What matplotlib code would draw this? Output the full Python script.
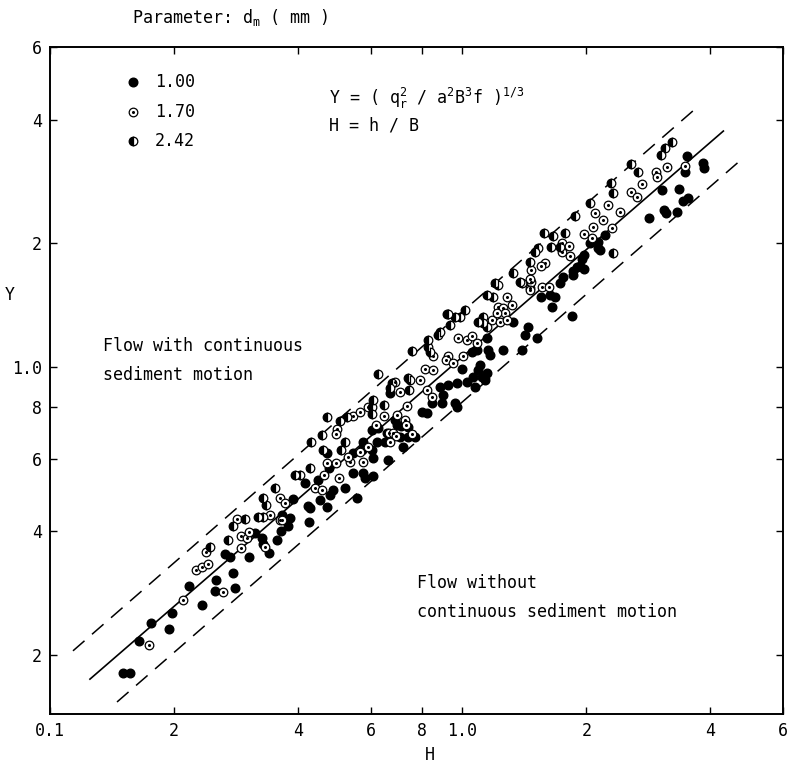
import matplotlib
matplotlib.use("Agg")
import matplotlib.pyplot as plt

# ---------------- data ----------------
# d_m = 1.00 mm (filled circles)
filled_H = [0.150, 0.156, 0.164, 0.176, 0.194, 0.198, 0.217, 0.234, 0.253, 0.251,
            0.278, 0.281, 0.266, 0.273, 0.304, 0.314, 0.327, 0.329, 0.340, 0.356,
            0.364, 0.378, 0.425, 0.366, 0.382, 0.389, 0.423, 0.427, 0.452, 0.470,
            0.416, 0.447, 0.478, 0.486, 0.520, 0.556, 0.475, 0.470, 0.544, 0.575,
            0.572, 0.605, 0.608, 0.544, 0.575, 0.581, 0.608, 0.661, 0.622, 0.625,
            0.605, 0.687, 0.695, 0.711, 0.739, 0.707, 0.739, 0.719, 0.650, 0.657,
            0.799, 0.822, 0.769, 0.668, 1.00, 1.057, 1.087, 1.105, 1.093, 1.118,
            1.063, 1.028, 0.972, 0.924, 1.075, 1.137, 1.149, 0.884, 0.899, 0.845,
            0.894, 0.961, 0.972, 1.149, 1.156, 1.169, 1.257, 0.919, 1.329, 1.445,
            1.421, 1.520, 1.398, 2.84, 2.22, 2.04, 2.13, 2.14, 2.16, 1.97,
            1.95, 1.93, 1.90, 1.86, 1.76, 1.73, 1.86, 1.97, 1.63, 1.68,
            1.55, 1.65, 1.85, 3.51, 3.47, 3.84, 3.86, 3.06, 3.36, 3.44,
            3.53, 3.09, 3.12, 3.32]
filled_Y = [0.181, 0.181, 0.216, 0.240, 0.231, 0.254, 0.295, 0.265, 0.305, 0.287,
            0.317, 0.292, 0.353, 0.347, 0.347, 0.397, 0.386, 0.373, 0.355, 0.380,
            0.401, 0.411, 0.422, 0.437, 0.432, 0.480, 0.462, 0.456, 0.477, 0.459,
            0.525, 0.534, 0.491, 0.505, 0.510, 0.483, 0.571, 0.621, 0.621, 0.660,
            0.631, 0.631, 0.604, 0.555, 0.555, 0.540, 0.546, 0.597, 0.660, 0.714,
            0.706, 0.746, 0.726, 0.722, 0.718, 0.679, 0.679, 0.642, 0.660, 0.694,
            0.781, 0.776, 0.679, 0.868, 0.993, 1.091, 1.104, 1.015, 0.987, 0.949,
            0.949, 0.923, 0.918, 0.908, 0.898, 0.933, 0.971, 0.898, 0.858, 0.821,
            0.821, 0.821, 0.803, 1.180, 1.104, 1.073, 1.104, 1.350, 1.291, 1.255,
            1.200, 1.180, 1.104, 2.31, 2.10, 2.01, 2.02, 1.95, 1.93, 1.88,
            1.83, 1.76, 1.75, 1.71, 1.66, 1.60, 1.68, 1.73, 1.50, 1.48,
            1.48, 1.40, 1.33, 3.26, 2.98, 3.14, 3.05, 2.70, 2.71, 2.54,
            2.58, 2.41, 2.37, 2.39]

# d_m = 1.70 mm (open circles)
open_H = [0.174, 0.210, 0.226, 0.234, 0.242, 0.239, 0.263, 0.291, 0.301, 0.304,
          0.291, 0.332, 0.362, 0.284, 0.342, 0.366, 0.362, 0.372, 0.440, 0.457,
          0.462, 0.470, 0.494, 0.503, 0.544, 0.565, 0.535, 0.529, 0.565, 0.591,
          0.575, 0.591, 0.646, 0.618, 0.695, 0.727, 0.731, 0.735, 0.665, 0.680,
          0.691, 0.668, 0.756, 0.497, 0.494, 0.687, 0.707, 0.790, 0.850, 0.813,
          0.850, 0.822, 0.845, 0.924, 0.914, 0.950, 0.978, 1.028, 1.057, 1.087,
          1.005, 1.285, 1.222, 1.257, 1.271, 1.322, 1.182, 1.236, 1.285, 1.215,
          1.461, 1.470, 2.56, 2.73, 2.66, 2.26, 2.42, 2.10, 2.19, 2.08,
          2.31, 1.97, 2.07, 1.75, 1.82, 1.75, 1.83, 1.59, 1.55, 1.47,
          1.46, 1.56, 1.62, 1.46, 2.95, 2.97, 3.14, 3.47]
open_Y = [0.212, 0.273, 0.323, 0.328, 0.334, 0.357, 0.285, 0.390, 0.386, 0.399,
          0.365, 0.367, 0.427, 0.429, 0.439, 0.427, 0.483, 0.469, 0.510, 0.505,
          0.549, 0.587, 0.587, 0.540, 0.763, 0.781, 0.590, 0.607, 0.624, 0.642,
          0.590, 0.803, 0.763, 0.726, 0.768, 0.746, 0.726, 0.807, 0.694, 0.694,
          0.683, 0.660, 0.690, 0.710, 0.690, 0.923, 0.873, 0.933, 1.067, 0.993,
          0.987, 0.883, 0.849, 1.067, 1.044, 1.026, 1.180, 1.167, 1.194, 1.148,
          1.067, 1.484, 1.404, 1.396, 1.357, 1.419, 1.305, 1.291, 1.305, 1.357,
          1.561, 1.614, 2.67, 2.79, 2.60, 2.48, 2.39, 2.37, 2.28, 2.19,
          2.18, 2.11, 2.06, 2.01, 1.97, 1.91, 1.86, 1.79, 1.76, 1.72,
          1.64, 1.57, 1.57, 1.54, 2.98, 2.90, 3.07, 3.09]

# d_m = 2.42 mm (half-filled circles)
half_H = [0.245, 0.270, 0.278, 0.297, 0.320, 0.329, 0.329, 0.334, 0.352, 0.393,
          0.404, 0.427, 0.460, 0.430, 0.457, 0.470, 0.506, 0.526, 0.520, 0.508,
          0.605, 0.605, 0.608, 0.646, 0.625, 0.676, 0.668, 0.739, 0.747, 0.743,
          0.756, 0.827, 0.836, 0.874, 0.884, 0.924, 0.935, 0.961, 0.988, 1.016,
          0.827, 1.093, 1.149, 1.189, 1.124, 1.124, 1.149, 1.202, 1.222, 1.398,
          2.29, 2.32, 2.04, 1.88, 1.58, 1.66, 1.78, 1.64, 1.73, 1.53,
          1.50, 2.32, 1.46, 1.33, 1.38, 3.23, 3.11, 3.04, 2.56, 2.67]
half_Y = [0.367, 0.382, 0.413, 0.429, 0.434, 0.434, 0.483, 0.464, 0.510, 0.549,
          0.549, 0.571, 0.631, 0.660, 0.686, 0.759, 0.742, 0.759, 0.660, 0.631,
          0.803, 0.772, 0.835, 0.812, 0.965, 0.918, 0.893, 0.944, 0.933, 0.883,
          1.098, 1.122, 1.091, 1.200, 1.220, 1.350, 1.269, 1.327, 1.327, 1.380,
          1.167, 1.291, 1.501, 1.484, 1.327, 1.284, 1.255, 1.605, 1.587, 1.605,
          2.81, 2.65, 2.51, 2.33, 2.12, 2.08, 2.12, 1.96, 1.96, 1.95,
          1.91, 1.90, 1.80, 1.70, 1.61, 3.53, 3.41, 3.28, 3.12, 2.98]

# reference lines
center_H = [0.125, 4.30]
center_Y = [0.175, 3.75]
upper_H = [0.1137, 3.72]
upper_Y = [0.205, 4.29]
lower_H = [0.1454, 4.81]
lower_Y = [0.154, 3.23]

legend_labels = ["1.00", "1.70", "2.42"]

x_ticks = [0.1, 0.2, 0.4, 0.6, 0.8, 1.0, 2, 4, 6]
x_ticklabels = ["0.1", "2", "4", "6", "8", "1.0", "2", "4", "6"]
y_ticks = [0.2, 0.4, 0.6, 0.8, 1.0, 2, 4, 6]
y_ticklabels = ["2", "4", "6", "8", "1.0", "2", "4", "6"]

# ---------------- plot ----------------
FONT = "DejaVu Sans Mono"
plt.rcParams["font.family"] = FONT

fig = plt.figure(figsize=(7.88, 7.69), dpi=100)
ax = fig.add_axes([50 / 788, 1 - 714 / 769, 733 / 788, 667 / 769])
ax.set_xscale("log")
ax.set_yscale("log")
ax.set_xlim(0.1, 6)
ax.set_ylim(0.144, 6)

ms = 6.2
ax.plot(center_H, center_Y, color="black", lw=1.2, zorder=1)
for h, yv in ((upper_H, upper_Y), (lower_H, lower_Y)):
    ax.plot(h, yv, color="black", lw=1.1, dashes=(10, 6.5), zorder=1)

ax.plot(filled_H, filled_Y, "o", ms=ms, color="black", mec="black", zorder=3)
ax.plot(open_H, open_Y, "o", ms=ms, mfc="white", mec="black", mew=0.9, zorder=3)
ax.plot(open_H, open_Y, "o", ms=1.2, color="black", zorder=4)
ax.plot(half_H, half_Y, "o", ms=ms, fillstyle="left", mfc="black",
        mfcalt="white", mec="black", mew=0.9, zorder=3)

# legend (drawn manually)
leg_y = [0.948, 0.9025, 0.859]
ax.plot([0.113], [leg_y[0]], "o", ms=ms, color="black", transform=ax.transAxes, clip_on=False)
ax.plot([0.113], [leg_y[1]], "o", ms=ms, mfc="white", mec="black", mew=0.9,
        transform=ax.transAxes, clip_on=False)
ax.plot([0.113], [leg_y[1]], "o", ms=1.2, color="black", transform=ax.transAxes)
ax.plot([0.113], [leg_y[2]], "o", ms=ms, fillstyle="left", mfc="black",
        mfcalt="white", mec="black", mew=0.9, transform=ax.transAxes)
for yy, lab in zip(leg_y, legend_labels):
    ax.text(0.143, yy, lab, transform=ax.transAxes, fontsize=12,
            va="center", ha="left")

ax.text(0.381, 0.9235, r"Y = ( q$_\mathregular{r}^\mathregular{2}$ / a$^\mathregular{2}$B$^\mathregular{3}$f )$^\mathregular{1/3}$",
        transform=ax.transAxes, fontsize=12, va="center", ha="left")
ax.text(0.381, 0.882, "H = h / B", transform=ax.transAxes, fontsize=12,
        va="center", ha="left")

ax.text(0.072, 0.552, "Flow with continuous", transform=ax.transAxes,
        fontsize=12, va="center", ha="left")
ax.text(0.072, 0.508, "sediment motion", transform=ax.transAxes,
        fontsize=12, va="center", ha="left")
ax.text(0.501, 0.196, "Flow without", transform=ax.transAxes,
        fontsize=12, va="center", ha="left")
ax.text(0.501, 0.153, "continuous sediment motion", transform=ax.transAxes,
        fontsize=12, va="center", ha="left")

fig.text(0.1675, 0.977, r"Parameter: d$_\mathregular{m}$ ( mm )", fontsize=12,
         va="center", ha="left")
fig.text(0.012, 0.616, "Y", fontsize=12, va="center", ha="center")
fig.text(0.546, 0.018, "H", fontsize=12, va="center", ha="center")

# ticks
ax.xaxis.set_minor_locator(matplotlib.ticker.NullLocator())
ax.yaxis.set_minor_locator(matplotlib.ticker.NullLocator())
ax.set_xticks(x_ticks)
ax.set_xticklabels(x_ticklabels)
ax.set_yticks(y_ticks)
ax.set_yticklabels(y_ticklabels)
ax.tick_params(which="major", direction="in", length=5, width=1.0,
               top=True, right=True, labelsize=12, pad=6)
for sp in ax.spines.values():
    sp.set_linewidth(1.4)

fig.savefig("out.png", dpi=100)
